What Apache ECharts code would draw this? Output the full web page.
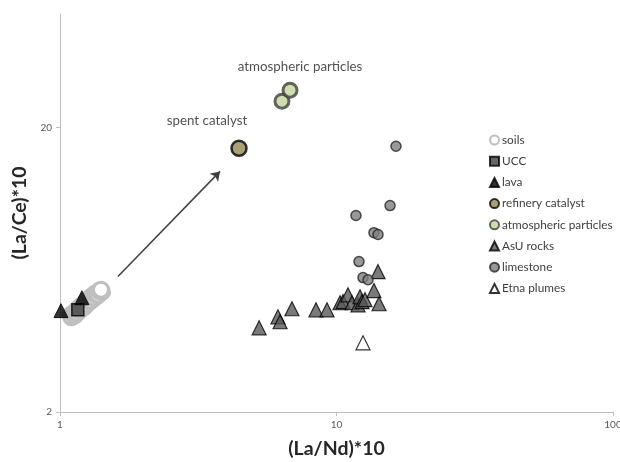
<!DOCTYPE html>
<html><head><meta charset="utf-8">
<script src="https://cdn.jsdelivr.net/npm/echarts@6/dist/echarts.min.js"></script>
<style>html,body{margin:0;padding:0;background:#fff}#c{width:620px;height:462px}</style>
</head><body><div id="c"></div>
<script>
// Data: [ (La/Nd)*10 , (La/Ce)*10 ]
const soils = [[1.09,4.38],[1.10,4.30],[1.12,4.45],[1.13,4.36],[1.143,4.54],[1.15,4.44],[1.171,4.65],[1.18,4.55],[1.19,4.72],[1.211,4.76],[1.22,4.66],[1.23,4.84],[1.242,4.88],[1.25,4.78],[1.26,4.97],[1.284,5.00],[1.29,4.90],[1.30,5.10],[1.316,5.12],[1.33,5.02],[1.34,5.22],[1.361,5.25],[1.37,5.14],[1.39,5.34],[1.42,5.28],[1.407,5.38]];
const ucc = [[1.16,4.57]];
const lava = [[1.008,4.54],[1.20,5.04]];
const refineryCatalyst = [[4.44,16.88]];
const atmosphericParticles = [[6.35,24.7],[6.79,27.0]];
const asuRocks = [[5.25,3.95],[6.14,4.32],[6.25,4.15],[6.90,4.61],[8.43,4.57],[9.24,4.57],[10.3,4.84],[10.56,4.88],[11.0,5.16],[11.38,4.84],[11.96,4.76],[12.16,5.08],[12.37,4.88],[12.68,4.96],[13.66,5.34],[14.25,4.80],[14.13,6.22]];
const limestone = [[12.06,6.75],[12.47,5.93],[13.0,5.83],[13.66,8.53],[14.13,8.40],[11.76,9.80],[15.62,10.62],[16.41,17.15]];
const etnaPlumes = [[12.47,3.50]];
const arrowFrom = [1.62,5.98];
const arrowTo = [3.79,14.0];
const xTicks = [1,10,100];
const yTicks = [2,20];
const seriesNames = ['soils','UCC','lava','refinery catalyst','atmospheric particles','AsU rocks','limestone','Etna plumes'];

const FONT = 'Lato';
const chart = echarts.init(document.getElementById('c'), null, {renderer:'canvas'});
chart.setOption({
  animation:false,
  backgroundColor:'#fff',
  textStyle:{fontFamily:FONT},
  grid:{left:60,right:7,top:14,bottom:50,outerBoundsMode:'none',containLabel:false},
  legend:{
    orient:'vertical', left:484, top:129, itemWidth:9, itemHeight:9, itemGap:9.2,
    textStyle:{fontFamily:FONT,fontSize:11.8,color:'#404040',padding:[0,0,0,-2]},
    data:seriesNames.map(function(n){return n==='soils'?{name:n,itemStyle:{color:'#ffffff'}}:{name:n};})
  },
  xAxis:{
    type:'log', logBase:10, min:1, max:100,
    name:'(La/Nd)*10', nameLocation:'middle', nameGap:27,
    nameTextStyle:{fontFamily:FONT,fontSize:19.5,fontWeight:'bold',color:'#262626'},
    axisLine:{lineStyle:{color:'#bfbfbf',width:1}},
    axisTick:{show:true,length:4,lineStyle:{color:'#bfbfbf'},customValues:xTicks},
    axisLabel:{fontSize:10,color:'#595959',margin:8,customValues:xTicks},
    splitLine:{show:false}
  },
  yAxis:{
    type:'log', logBase:10, min:2, max:50,
    name:'(La/Ce)*10', nameLocation:'middle', nameGap:28, nameRotate:90,
    nameTextStyle:{fontFamily:FONT,fontSize:19.5,fontWeight:'bold',color:'#262626'},
    axisLine:{show:true,lineStyle:{color:'#bfbfbf',width:1}},
    axisTick:{show:true,length:4,lineStyle:{color:'#bfbfbf'},customValues:yTicks},
    axisLabel:{fontSize:10,color:'#595959',margin:8,customValues:yTicks},
    splitLine:{show:false}
  },
  series:[
    {name:'soils',type:'scatter',symbol:'circle',symbolSize:15,
     data:soils.map(function(d,i){return i===soils.length-1?{value:d,itemStyle:{color:'#ffffff'}}:{value:d};}),
     itemStyle:{color:'#cfcfcf',borderColor:'#bfbfbf',borderWidth:3,opacity:1}},
    {name:'UCC',type:'scatter',data:ucc,symbol:'rect',symbolSize:12,
     itemStyle:{color:'#404040',borderColor:'#000',borderWidth:1.5}},
    {name:'lava',type:'scatter',data:lava,symbol:'triangle',symbolSize:14,
     itemStyle:{color:'#000',borderColor:'#000',borderWidth:1}},
    {name:'refinery catalyst',type:'scatter',symbol:'circle',symbolSize:15,
     data:refineryCatalyst.map(function(d){return {value:d,label:{show:true,formatter:'spent catalyst',position:'inside',offset:[-32,-28],fontFamily:FONT,fontSize:13.3,color:'#262626'}};}),
     itemStyle:{color:'#948a54',borderColor:'#000',borderWidth:2.5},
     markLine:{silent:true,symbol:['none','arrow'],symbolSize:9,label:{show:false},
       lineStyle:{color:'#404040',width:1.5,type:'solid'},
       data:[[{coord:arrowFrom},{coord:arrowTo}]]}},
    {name:'atmospheric particles',type:'scatter',symbol:'circle',symbolSize:14,
     data:atmosphericParticles.map(function(d,i){return i===1?{value:d,label:{show:true,formatter:'atmospheric particles',position:'inside',offset:[10,-23],fontFamily:FONT,fontSize:13.3,color:'#262626'}}:{value:d};}),
     itemStyle:{color:'#c3d69b',borderColor:'#404040',borderWidth:3}},
    {name:'AsU rocks',type:'scatter',data:asuRocks,symbol:'triangle',symbolSize:14,
     itemStyle:{color:'#595959',borderColor:'#000',borderWidth:1.2}},
    {name:'limestone',type:'scatter',data:limestone,symbol:'circle',symbolSize:10,
     itemStyle:{color:'#808080',borderColor:'#262626',borderWidth:1.5}},
    {name:'Etna plumes',type:'scatter',data:etnaPlumes,symbol:'triangle',symbolSize:14,
     itemStyle:{color:'#ffffff',borderColor:'#000',borderWidth:1.2}}
  ]
});
</script></body></html>
